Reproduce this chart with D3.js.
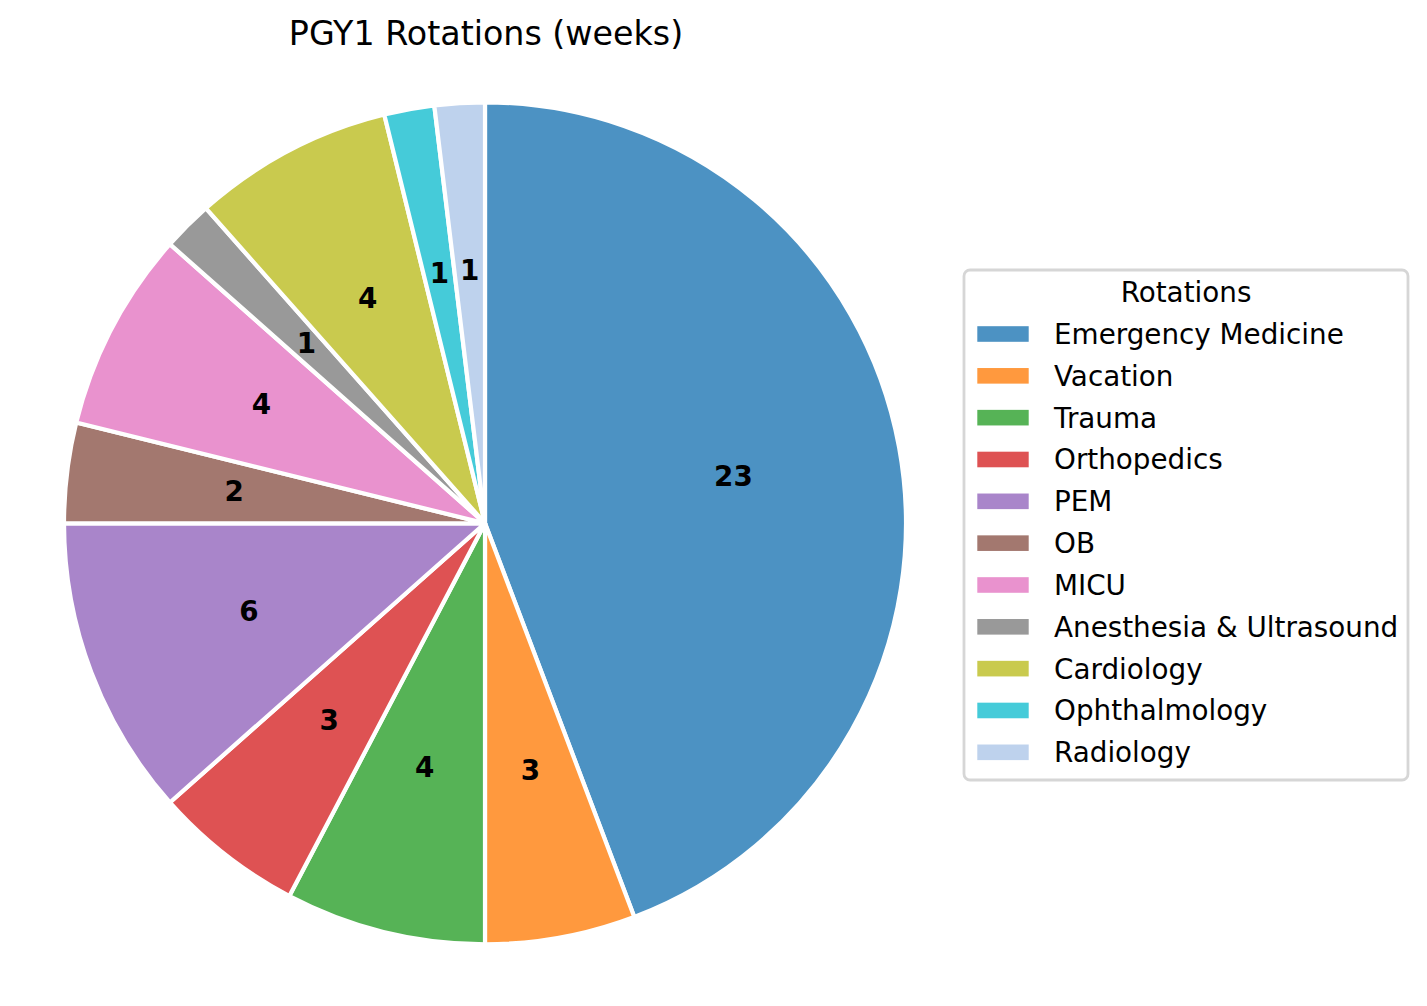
<!DOCTYPE html>
<html>
<head>
<meta charset="utf-8">
<script src="https://cdn.jsdelivr.net/npm/d3@7"></script>
<style>
  body { margin: 0; background: #fff; }
  text { font-family: "DejaVu Sans", sans-serif; }
</style>
</head>
<body>
<div class="App"></div>
<script>
// rotations, in order, clockwise from 12 o'clock
const rotations = [
    'Emergency Medicine', 'Vacation', 'Trauma', 'Orthopedics', 'PEM', 'OB',
    'MICU', 'Anesthesia & Ultrasound', 'Cardiology', 'Ophthalmology', 'Radiology'
];
const weeks = [23, 3, 4, 3, 6, 2, 4, 1, 4, 1, 1];

const palette = [...d3.schemeCategory10, '#aec7e8'];

const width = 1427, height = 1006;
const cx = 485, cy = 523.3, radius = 421;

const svg = d3.select('.App')
    .append('svg')
    .attr('width', width)
    .attr('height', height);

svg.append('text')
    .attr('x', 486)
    .attr('y', 45)
    .attr('text-anchor', 'middle')
    .style('font-size', '33.3px')
    .text('PGY1 Rotations (weeks)');

const color = d3.scaleOrdinal().domain(rotations).range(palette);

const pie = d3.pie()
    .sort(null)
    .value(d => d.weeks)
    .startAngle(0)
    .endAngle(2 * Math.PI);

const data = rotations.map((name, i) => ({ name, weeks: weeks[i] }));
const arcs = pie(data);

const arc = d3.arc().innerRadius(0).outerRadius(radius);
const labelArc = d3.arc().innerRadius(radius * 0.6).outerRadius(radius * 0.6);

const g = svg.append('g')
    .attr('transform', 'translate(' + cx + ',' + cy + ')');

g.selectAll('path')
    .data(arcs)
    .join('path')
        .attr('d', arc)
        .attr('fill', d => color(d.data.name))
        .attr('fill-opacity', 0.8)
        .attr('stroke', '#fff')
        .attr('stroke-width', 4.2)
        .attr('stroke-linejoin', 'round');

g.selectAll('text.val')
    .data(arcs)
    .join('text')
        .attr('class', 'val')
        .attr('transform', d => 'translate(' + labelArc.centroid(d) + ')')
        .attr('text-anchor', 'middle')
        .attr('dy', '0.3em')
        .style('font-size', '27.8px')
        .style('font-weight', 'bold')
        .text(d => d.data.weeks);

// legend
const legend = svg.append('g');
const lx = 964, ly = 270, lw = 444, lh = 510;

legend.append('rect')
    .attr('x', lx)
    .attr('y', ly)
    .attr('width', lw)
    .attr('height', lh)
    .attr('rx', 6)
    .attr('fill', '#fff')
    .attr('stroke', '#d6d6d6')
    .attr('stroke-width', 2.8);

legend.append('text')
    .attr('x', lx + lw / 2)
    .attr('y', 301.5)
    .attr('text-anchor', 'middle')
    .style('font-size', '27.8px')
    .text('Rotations');

const rowY = d3.scalePoint().domain(rotations).range([334, 752.3]);

const rows = legend.selectAll('g.row')
    .data(rotations)
    .join('g')
        .attr('class', 'row')
        .attr('transform', d => 'translate(0,' + rowY(d) + ')');

rows.append('rect')
    .attr('x', 977.3)
    .attr('y', -7.8)
    .attr('width', 51.4)
    .attr('height', 15.6)
    .attr('fill', d => color(d))
    .attr('fill-opacity', 0.8);

rows.append('text')
    .attr('x', 1054)
    .attr('y', 10)
    .style('font-size', '27.8px')
    .text(d => d);
</script>
</body>
</html>
